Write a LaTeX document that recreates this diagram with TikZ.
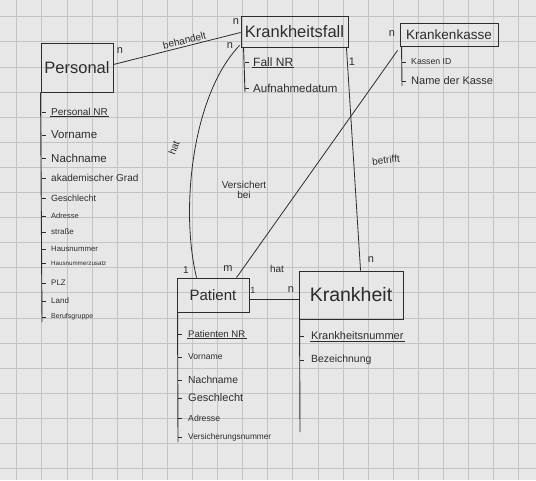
\documentclass[tikz,border=0pt]{standalone}
\usepackage{fontspec}
\setmainfont{Liberation Sans}
\usetikzlibrary{positioning, calc}

\definecolor{paper}{RGB}{231,231,231}
\definecolor{gridgray}{RGB}{196,196,196}
\definecolor{ink}{RGB}{45,45,45}

\newcommand{\fs}[1]{\fontsize{#1}{#1}\selectfont}

\begin{document}
\begin{tikzpicture}[
    x=1pt, y=-1pt,
    entity/.style={rectangle, draw=ink, line width=0.9pt, inner sep=0pt, text=ink},
    attr/.style={anchor=west, inner sep=1pt, text=ink},
    rel/.style={draw=ink, line width=0.8pt},
    stem/.style={draw=ink, line width=0.9pt},
    lbl/.style={inner sep=0pt, text=ink},
    gridline/.style={draw=gridgray, line width=0.7pt}
]

    % Paper with grid
    \fill[paper] (0,0) rectangle (536,480);
    \useasboundingbox (0,0) rectangle (536,480);
    \foreach \i in {0,...,20}
        \draw[gridline] ({16.7+25.1*\i},0) -- ++(0,480);
    \foreach \i in {0,...,18}
        \draw[gridline] (0,{16.7+25.1*\i}) -- ++(536,0);

    % Entities
    \node [entity, minimum width=72pt, minimum height=49pt, font=\fs{16.5}] (personal) at (77,67.5) {Personal};
    \node [entity, minimum width=107pt, minimum height=31pt, font=\fs{16.5}] (fall) at (294.5,31.5) {Krankheitsfall};
    \node [entity, minimum width=98pt, minimum height=23pt, font=\fs{13.5}] (kasse) at (449,34.5) {Krankenkasse};
    \node [entity, minimum width=72pt, minimum height=34pt, font=\fs{15}] (patient) at (213,295) {Patient};
    \node [entity, minimum width=104pt, minimum height=48pt, font=\fs{19.5}] (krankheit) at (351,295) {Krankheit};

    % Attributes of Personal
    \coordinate (personal_end) at (42,322);
    \draw[stem] (personal.south west) -- (personal_end);
    \foreach \y/\s/\t [count=\n] in {112/10/Personal NR, 135/11.5/Vorname, 158/11.5/Nachname,
        178/10/akademischer Grad, 198/9/Geschlecht, 216/7.5/Adresse, 232/8/straße,
        249/7.8/Hausnummer, 263/6.2/Hausnummerzusatz, 283/8/PLZ, 301/8/Land, 317/7/Berufsgruppe} {
        \draw[stem] (42,\y) -- ++(4,0);
        \node [attr, font=\fs{\s}] (pers\n) at (50,\y) {\t};
    }
    \draw[stem] (pers1.south west) -- (pers1.south east);

    % Attributes of Krankheitsfall
    \coordinate (fall_end) at (245,92);
    \draw[stem] ($(fall.south west)+(3,0)$) -- (fall_end);
    \foreach \y/\s/\t [count=\n] in {62/12/Fall NR, 88/11.5/Aufnahmedatum} {
        \draw[stem] (245,\y) -- ++(4,0);
        \node [attr, font=\fs{\s}] (fall\n) at (252,\y) {\t};
    }
    \draw[stem] (fall1.south west) -- (fall1.south east);

    % Attributes of Krankenkasse
    \coordinate (kasse_end) at (402,86);
    \draw[stem] ($(kasse.south west)+(2,0)$) -- (kasse_end);
    \foreach \y/\s/\t [count=\n] in {62/8.7/Kassen ID, 81/11/Name der Kasse} {
        \draw[stem] (402,\y) -- ++(4,0);
        \node [attr, font=\fs{\s}] (kasse\n) at (410,\y) {\t};
    }

    % Attributes of Patient
    \coordinate (patient_end) at (178,442);
    \draw[stem] ($(patient.south west)+(1,0)$) -- (patient_end);
    \foreach \y/\s/\t [count=\n] in {334/9.6/Patienten NR, 357/8.6/Vorname, 380/10.3/Nachname,
        398/11/Geschlecht, 418/8.7/Adresse, 437/8.3/Versicherungsnummer} {
        \draw[stem] (178,\y) -- ++(4,0);
        \node [attr, font=\fs{\s}] (pat\n) at (187,\y) {\t};
    }
    \draw[stem] (pat1.south west) -- (pat1.south east);

    % Attributes of Krankheit
    \coordinate (krankheit_end) at (300,432);
    \draw[stem] ($(krankheit.south west)+(1,0)$) -- (krankheit_end);
    \foreach \y/\s/\t [count=\n] in {336/11/Krankheitsnummer, 360/10.4/Bezeichnung} {
        \draw[stem] (300,\y) -- ++(4,0);
        \node [attr, font=\fs{\s}] (krank\n) at (310,\y) {\t};
    }
    \draw[stem] (krank1.south west) -- (krank1.south east);

    % Relationships
    \path [rel] ($(personal.east)+(0,-3)$) -- node [pos=0.57, above=2pt, sloped, lbl, font=\fs{10}] {behandelt} ($(fall.west)+(0,1)$);
    \path [rel] ($(fall.south west)+(-1,-2)$) .. controls (192,95) and (180,210) .. ($(patient.north west)+(20,0)$);
    \path [rel] ($(fall.south east)+(-2,0)$) -- ($(krankheit.north west)+(62,0)$);
    \path [rel] ($(kasse.south west)+(-2,4)$) -- ($(patient.north west)+(60,0)$);
    \path [rel] ($(patient.east)+(0,4)$) -- ($(krankheit.west)+(0,4)$);

    % Relationship names
    \node [lbl, font=\fs{10}, rotate=70] (hat_fall) at (174,148) {hat};
    \node [lbl, font=\fs{10}, rotate=6] (betrifft) at (386,160) {betrifft};
    \node [lbl, font=\fs{10}, align=center] (versichert) at (244,190) {Versichert\\bei};
    \node [lbl, font=\fs{10}] (hat_krank) at (277,269) {hat};

    % Cardinalities
    \node [lbl, font=\fs{11}] (c1) at (120,51) {n};
    \node [lbl, font=\fs{11}] (c2) at (236,22) {n};
    \node [lbl, font=\fs{11}] (c3) at (230,46) {n};
    \node [lbl, font=\fs{11}] (c4) at (352,62) {1};
    \node [lbl, font=\fs{11}] (c5) at (392,34) {n};
    \node [lbl, font=\fs{11}] (c6) at (371,260) {n};
    \node [lbl, font=\fs{10}] (c7) at (186,270) {1};
    \node [lbl, font=\fs{11}] (c8) at (228,269) {m};
    \node [lbl, font=\fs{9}] (c9) at (253,290) {1};
    \node [lbl, font=\fs{11}] (c10) at (291,290) {n};

\end{tikzpicture}
\end{document}
